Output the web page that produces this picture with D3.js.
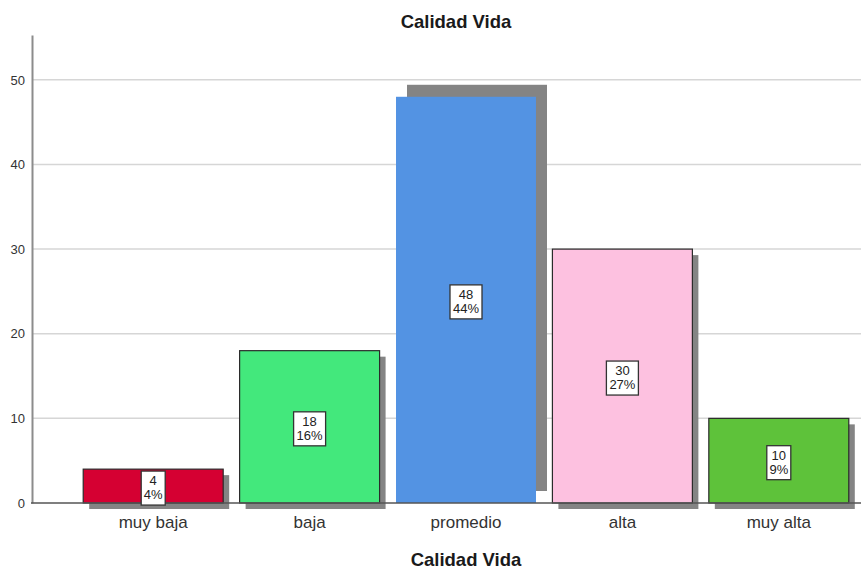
<!DOCTYPE html>
<html>
<head>
<meta charset="utf-8">
<script src="https://cdn.jsdelivr.net/npm/d3@7"></script>
<style>
  body { margin: 0; background: #fff; }
  text { font-family: "Liberation Sans", Arial, sans-serif; }
</style>
</head>
<body>
<div id="chart"></div>
<script>
// data
var categories = ["muy baja", "baja", "promedio", "alta", "muy alta"];
var counts = [4, 18, 48, 30, 10];
var percents = ["4%", "16%", "44%", "27%", "9%"];
var barColors = ["#d50032", "#43e87c", "#5393e3", "#fdc1e0", "#5ec23a"];
var yTicks = [0, 10, 20, 30, 40, 50];
var selected = 2; // promedio is drawn highlighted (no outline, shifted shadow)

var W = 861, H = 569;
var svg = d3.select("#chart").append("svg")
    .attr("width", W).attr("height", H);

var x = d3.scaleBand()
    .domain(categories)
    .range([75, 857])
    .paddingInner(0.105)
    .paddingOuter(0.0525);

var y = d3.scaleLinear()
    .domain([0, 55.3])
    .range([503, 35]);

// grid lines
svg.append("g").selectAll("line")
   .data(yTicks.slice(1))
   .enter().append("line")
   .attr("x1", 33).attr("x2", W)
   .attr("y1", function(d) { return y(d); })
   .attr("y2", function(d) { return y(d); })
   .attr("stroke", "#d6d6d6")
   .attr("stroke-width", 1.5);

// y axis
var yaxis = svg.append("g")
   .attr("transform", "translate(32,0)")
   .call(d3.axisLeft(y).tickValues(yTicks).tickSize(0).tickPadding(7));
yaxis.select(".domain").attr("stroke", "#8c8c8c").attr("stroke-width", 2);
yaxis.selectAll("text")
   .attr("fill", "#333")
   .style("font-size", "13px")
   .style("font-family", "Liberation Sans, Arial, sans-serif");

// shadows
svg.append("g").selectAll("rect")
   .data(counts)
   .enter().append("rect")
   .attr("x", function(d, i) { return x(categories[i]) + (i === selected ? 11 : 6); })
   .attr("y", function(d, i) { return y(d) + (i === selected ? -12 : 6); })
   .attr("width", x.bandwidth())
   .attr("height", function(d) { return y(0) - y(d); })
   .attr("fill", "#848484");

// bars
svg.append("g").selectAll("rect")
   .data(counts)
   .enter().append("rect")
   .attr("x", function(d, i) { return x(categories[i]); })
   .attr("y", function(d) { return y(d); })
   .attr("width", x.bandwidth())
   .attr("height", function(d) { return y(0) - y(d); })
   .attr("fill", function(d, i) { return barColors[i]; })
   .attr("stroke", function(d, i) { return i === selected ? "none" : "#2b2b2b"; })
   .attr("stroke-width", 1.2);

// x axis baseline
svg.append("line")
   .attr("x1", 31).attr("x2", W)
   .attr("y1", y(0)).attr("y2", y(0))
   .attr("stroke", "#555").attr("stroke-width", 1.3);

// value labels
var lab = svg.append("g").selectAll("g")
   .data(counts)
   .enter().append("g")
   .attr("transform", function(d, i) {
     return "translate(" + (x(categories[i]) + x.bandwidth() / 2) + "," + ((y(d) + y(0)) / 2 + 2) + ")";
   });

lab.each(function(d, i) {
  var g = d3.select(this);
  var w = Math.max(String(d).length, percents[i].length) * 8 + 8;
  g.append("rect")
   .attr("x", -w / 2).attr("y", -17)
   .attr("width", w).attr("height", 34)
   .attr("fill", "#fff")
   .attr("stroke", "#333")
   .attr("stroke-width", 1.3);
  g.append("text")
   .attr("text-anchor", "middle")
   .attr("y", -3)
   .style("font-size", "13px")
   .attr("fill", "#222")
   .text(d);
  g.append("text")
   .attr("text-anchor", "middle")
   .attr("y", 11)
   .style("font-size", "13px")
   .attr("fill", "#222")
   .text(percents[i]);
});

// category labels
svg.append("g").selectAll("text")
   .data(categories)
   .enter().append("text")
   .attr("x", function(d) { return x(d) + x.bandwidth() / 2; })
   .attr("y", 528)
   .attr("text-anchor", "middle")
   .attr("fill", "#333")
   .style("font-size", "17px")
   .text(function(d) { return d; });

// titles
svg.append("text")
   .attr("x", 456).attr("y", 28)
   .attr("text-anchor", "middle")
   .style("font-size", "18.5px")
   .style("font-weight", "bold")
   .attr("fill", "#1a1a1a")
   .text("Calidad Vida");

svg.append("text")
   .attr("x", 466).attr("y", 566)
   .attr("text-anchor", "middle")
   .style("font-size", "18.5px")
   .style("font-weight", "bold")
   .attr("fill", "#1a1a1a")
   .text("Calidad Vida");
</script>
</body>
</html>
